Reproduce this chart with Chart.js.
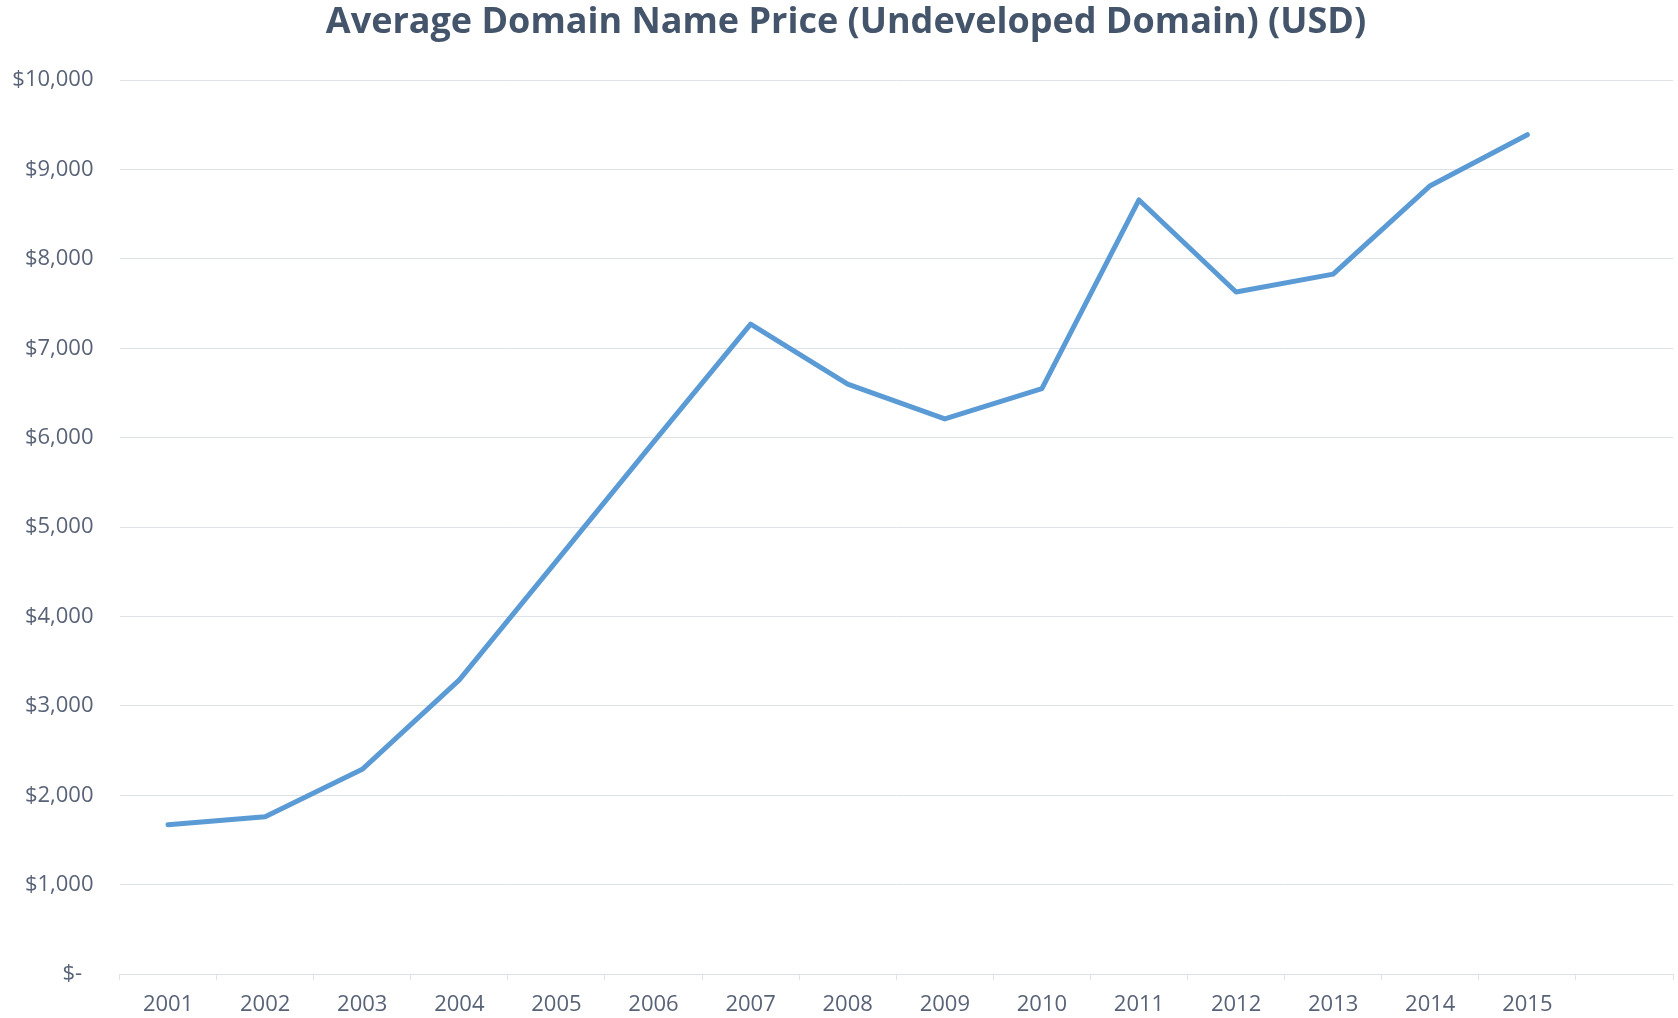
<!DOCTYPE html>
<html>
<head>
<meta charset="utf-8">
<script src="https://cdn.jsdelivr.net/npm/chart.js@4"></script>
<style>
  html, body { margin: 0; padding: 0; background: #ffffff; }
  #wrap { width: 1678px; height: 1018px; }
</style>
</head>
<body>
<div id="wrap"><canvas id="c" width="1678" height="1018"></canvas></div>
<script>
const years = ['2001','2002','2003','2004','2005','2006','2007','2008','2009','2010','2011','2012','2013','2014','2015',''];
const prices = [1670, 1760, 2290, 3290, 4620, 5950, 7270, 6600, 6210, 6550, 8660, 7630, 7830, 8820, 9390];
const chartTitle = 'Average Domain Name Price (Undeveloped Domain) (USD)';
const yMin = 0, yMax = 10000, yStep = 1000;

const tickColor = '#596377';
const gridColor = '#dde1e8';

new Chart(document.getElementById('c'), {
  type: 'line',
  data: {
    labels: years,
    datasets: [{
      data: prices,
      yAxisID: 'y',
      borderColor: '#5B9BD5',
      backgroundColor: '#5B9BD5',
      borderWidth: 5,
      pointRadius: 0,
      pointHoverRadius: 0,
      tension: 0,
      borderCapStyle: 'round',
      borderJoinStyle: 'round',
      fill: false
    }]
  },
  options: {
    responsive: false,
    animation: false,
    devicePixelRatio: 1,
    layout: { padding: { left: 0, right: -14, top: 0, bottom: 7 } },
    plugins: {
      legend: { display: false },
      tooltip: { enabled: false },
      title: {
        display: true,
        text: chartTitle,
        color: '#44546A',
        font: { family: '"Open Sans", sans-serif', size: 36, weight: 'bold', lineHeight: 1.2 },
        padding: { top: 1, bottom: 36 }
      }
    },
    scales: {
      x: {
        type: 'category',
        offset: true,
        afterFit: (scale) => { scale.height = 37; },
        grid: {
          display: true,
          drawOnChartArea: false,
          drawTicks: true,
          tickLength: 6,
          offset: true,
          color: gridColor
        },
        border: { display: true, color: gridColor, width: 1 },
        ticks: {
          color: tickColor,
          font: { family: '"Open Sans", sans-serif', size: 22, lineHeight: 1.2 },
          padding: 12,
          maxRotation: 0,
          autoSkip: false
        }
      },
      y: {
        position: 'left',
        min: yMin,
        max: yMax,
        afterFit: (scale) => { scale.width = 119.5; },
        grid: { color: gridColor, drawTicks: false, lineWidth: 1 },
        border: { display: false },
        ticks: {
          stepSize: yStep,
          color: tickColor,
          padding: 26,
          font: { family: '"Open Sans", sans-serif', size: 22 },
          callback: (v) => v === 0 ? '$-  ' : '$' + Number(v).toLocaleString('en-US')
        }
      },
      yRight: {
        position: 'right',
        display: true,
        min: yMin,
        max: yMax,
        afterFit: (scale) => { scale.width = 19; },
        grid: { display: false, drawTicks: false },
        border: { display: false },
        ticks: { display: false }
      }
    }
  }
});
</script>
</body>
</html>
